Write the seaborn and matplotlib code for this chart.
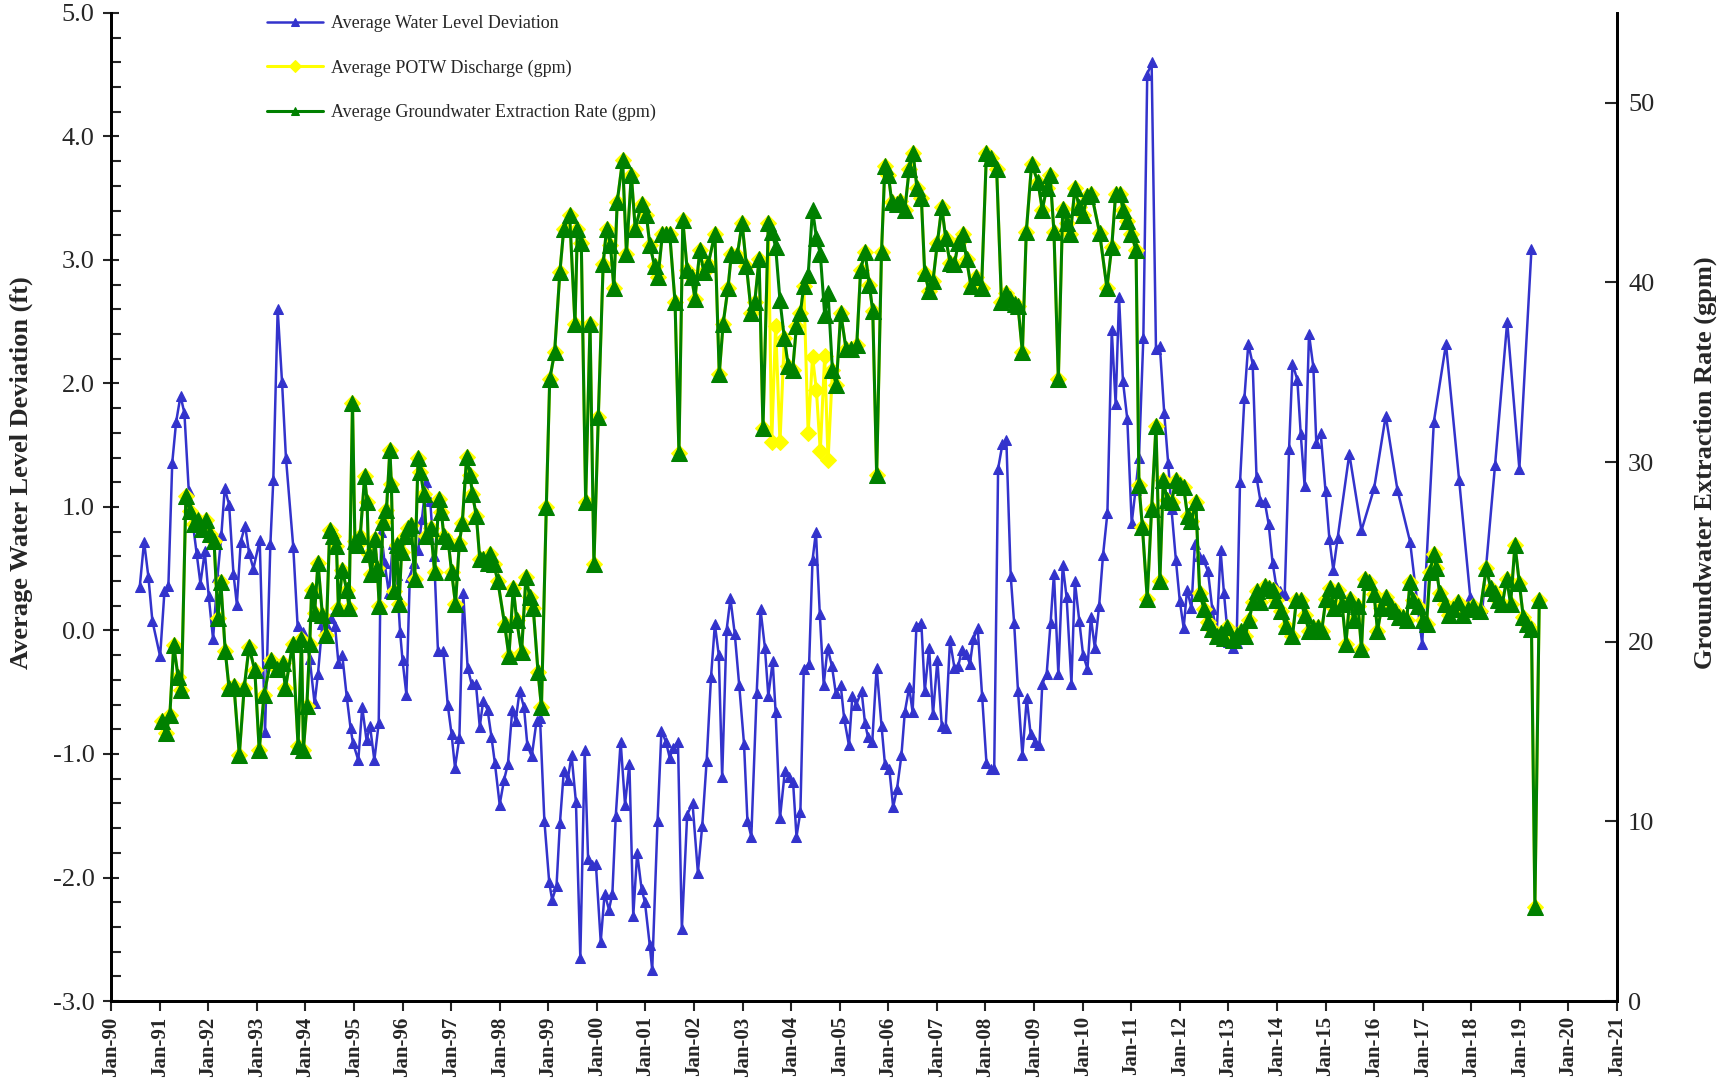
import numpy as np
import pandas as pd
import seaborn as sns
import matplotlib
matplotlib.use("Agg")
import matplotlib.pyplot as plt
from matplotlib.ticker import MultipleLocator

# ---- data (decimal years) ----
wl_dates = [
    1990.59, 1990.68, 1990.77, 1990.85, 1991.01, 1991.10, 1991.18, 1991.26, 1991.34, 1991.43,
    1991.51, 1991.60, 1991.76, 1991.84, 1991.93, 1992.01, 1992.10, 1992.19, 1992.27, 1992.34,
    1992.43, 1992.52, 1992.59, 1992.67, 1992.76, 1992.84, 1992.93, 1993.06, 1993.17, 1993.28,
    1993.34, 1993.43, 1993.52, 1993.60, 1993.75, 1993.84, 1993.96, 1994.09, 1994.19, 1994.26,
    1994.35, 1994.43, 1994.52, 1994.61, 1994.68, 1994.76, 1994.85, 1994.93, 1994.98, 1995.09,
    1995.17, 1995.26, 1995.33, 1995.42, 1995.51, 1995.56, 1995.63, 1995.72, 1995.80, 1995.88,
    1995.95, 1996.00, 1996.08, 1996.15, 1996.23, 1996.32, 1996.40, 1996.48, 1996.57, 1996.65,
    1996.73, 1996.84, 1996.93, 1997.01, 1997.08, 1997.17, 1997.25, 1997.34, 1997.42, 1997.51,
    1997.59, 1997.66, 1997.75, 1997.83, 1997.90, 1998.00, 1998.09, 1998.17, 1998.26, 1998.33,
    1998.41, 1998.50, 1998.57, 1998.66, 1998.76, 1998.83, 1998.92, 1999.02, 1999.08, 1999.17,
    1999.24, 1999.32, 1999.40, 1999.48, 1999.57, 1999.66, 1999.75, 1999.82, 1999.90, 1999.98,
    2000.08, 2000.16, 2000.25, 2000.32, 2000.39, 2000.49, 2000.58, 2000.67, 2000.75, 2000.83,
    2000.92, 2000.99, 2001.09, 2001.14, 2001.25, 2001.33, 2001.42, 2001.50, 2001.57, 2001.67,
    2001.75, 2001.86, 2001.97, 2002.08, 2002.17, 2002.26, 2002.35, 2002.43, 2002.51, 2002.58,
    2002.67, 2002.75, 2002.84, 2002.93, 2003.03, 2003.10, 2003.18, 2003.29, 2003.37, 2003.46,
    2003.53, 2003.62, 2003.68, 2003.77, 2003.87, 2003.96, 2004.04, 2004.11, 2004.19, 2004.26,
    2004.37, 2004.44, 2004.51, 2004.59, 2004.67, 2004.75, 2004.84, 2004.92, 2005.02, 2005.09,
    2005.19, 2005.26, 2005.34, 2005.45, 2005.52, 2005.58, 2005.67, 2005.76, 2005.86, 2005.93,
    2006.02, 2006.10, 2006.18, 2006.27, 2006.34, 2006.43, 2006.50, 2006.58, 2006.68, 2006.75,
    2006.84, 2006.92, 2007.01, 2007.10, 2007.18, 2007.27, 2007.36, 2007.44, 2007.51, 2007.60,
    2007.68, 2007.75, 2007.84, 2007.93, 2008.02, 2008.11, 2008.18, 2008.26, 2008.35, 2008.43,
    2008.52, 2008.59, 2008.67, 2008.76, 2008.85, 2008.93, 2009.02, 2009.11, 2009.17, 2009.26,
    2009.34, 2009.41, 2009.50, 2009.59, 2009.67, 2009.77, 2009.84, 2009.93, 2010.01, 2010.10,
    2010.17, 2010.25, 2010.34, 2010.42, 2010.51, 2010.60, 2010.68, 2010.75, 2010.83, 2010.92,
    2011.01, 2011.09, 2011.16, 2011.25, 2011.33, 2011.42, 2011.51, 2011.59, 2011.68, 2011.76,
    2011.83, 2011.92, 2012.00, 2012.08, 2012.15, 2012.24, 2012.31, 2012.40, 2012.48, 2012.58,
    2012.67, 2012.76, 2012.84, 2012.91, 2013.00, 2013.09, 2013.17, 2013.24, 2013.33, 2013.41,
    2013.50, 2013.58, 2013.66, 2013.75, 2013.83, 2013.91, 2013.99, 2014.07, 2014.16, 2014.25,
    2014.32, 2014.42, 2014.49, 2014.57, 2014.66, 2014.75, 2014.81, 2014.90, 2015.00, 2015.08,
    2015.16, 2015.25, 2015.49, 2015.74, 2016.00, 2016.24, 2016.48, 2016.74, 2016.99, 2017.23,
    2017.48, 2017.75, 2017.98, 2018.23, 2018.49, 2018.74, 2018.99, 2019.24,
]
wl_values = [
    0.35, 0.72, 0.43, 0.08, -0.21, 0.32, 0.36, 1.36, 1.69, 1.90,
    1.76, 1.13, 0.63, 0.38, 0.64, 0.28, -0.07, 0.43, 0.77, 1.15,
    1.02, 0.46, 0.21, 0.72, 0.85, 0.63, 0.50, 0.73, -0.82, 0.70,
    1.22, 2.60, 2.01, 1.40, 0.68, 0.04, -0.01, -0.23, -0.59, -0.35,
    0.05, 0.05, 0.10, 0.04, -0.26, -0.20, -0.53, -0.79, -0.91, -1.05,
    -0.62, -0.89, -0.77, -1.05, -0.75, 0.80, 0.55, 0.30, 0.70, 0.45,
    -0.01, -0.24, -0.52, 0.43, 0.55, 0.65, 0.90, 1.20, 1.05, 0.60,
    -0.17, -0.17, -0.60, -0.84, -1.11, -0.87, 0.30, -0.30, -0.43, -0.43,
    -0.78, -0.57, -0.64, -0.86, -1.07, -1.41, -1.21, -1.08, -0.64, -0.73,
    -0.49, -0.62, -0.93, -1.02, -0.73, -0.71, -1.54, -2.04, -2.18, -2.07,
    -1.56, -1.14, -1.21, -1.01, -1.39, -2.65, -0.97, -1.85, -1.90, -1.89,
    -2.52, -2.13, -2.26, -2.13, -1.50, -0.90, -1.41, -1.08, -2.31, -1.80,
    -2.09, -2.20, -2.55, -2.75, -1.54, -0.81, -0.90, -1.03, -0.95, -0.90,
    -2.42, -1.49, -1.40, -1.96, -1.58, -1.06, -0.38, 0.05, -0.20, -1.19,
    0.00, 0.26, -0.03, -0.44, -0.92, -1.54, -1.67, -0.51, 0.17, -0.14,
    -0.53, -0.25, -0.66, -1.52, -1.14, -1.19, -1.23, -1.67, -1.47, -0.31,
    -0.27, 0.57, 0.80, 0.13, -0.44, -0.14, -0.29, -0.51, -0.44, -0.71,
    -0.93, -0.53, -0.60, -0.49, -0.75, -0.86, -0.90, -0.30, -0.77, -1.08,
    -1.12, -1.43, -1.28, -1.01, -0.66, -0.46, -0.66, 0.04, 0.06, -0.49,
    -0.14, -0.68, -0.24, -0.77, -0.79, -0.08, -0.30, -0.29, -0.16, -0.19,
    -0.27, -0.07, 0.02, -0.53, -1.07, -1.12, -1.12, 1.31, 1.51, 1.54,
    0.44, 0.06, -0.49, -1.01, -0.55, -0.84, -0.90, -0.93, -0.43, -0.35,
    0.06, 0.46, -0.35, 0.53, 0.27, -0.43, 0.40, 0.08, -0.20, -0.31,
    0.11, -0.14, 0.20, 0.61, 0.95, 2.43, 1.83, 2.70, 2.02, 1.71,
    0.87, 1.14, 1.40, 2.37, 4.50, 4.60, 2.28, 2.30, 1.76, 1.36,
    0.98, 0.57, 0.24, 0.02, 0.33, 0.18, 0.70, 0.60, 0.58, 0.48,
    0.17, -0.02, 0.65, 0.30, -0.09, -0.14, -0.10, 1.20, 1.88, 2.32,
    2.16, 1.24, 1.05, 1.04, 0.86, 0.55, 0.35, 0.32, 0.29, 1.47,
    2.16, 2.03, 1.59, 1.17, 2.40, 2.13, 1.52, 1.60, 1.13, 0.74,
    0.49, 0.75, 1.43, 0.81, 1.15, 1.74, 1.14, 0.72, -0.11, 1.69,
    2.32, 1.22, 0.27, 0.18, 1.34, 2.50, 1.31, 3.09,
]

gw_dates = [
    1991.04, 1991.13, 1991.21, 1991.29, 1991.38, 1991.45, 1991.54, 1991.62, 1991.71, 1991.79,
    1991.87, 1991.96, 1992.04, 1992.12, 1992.20, 1992.26, 1992.35, 1992.43, 1992.53, 1992.64,
    1992.74, 1992.84, 1992.96, 1993.05, 1993.15, 1993.29, 1993.41, 1993.53, 1993.59, 1993.74,
    1993.85, 1993.92, 1993.96, 1994.03, 1994.09, 1994.13, 1994.19, 1994.26, 1994.35, 1994.43,
    1994.50, 1994.56, 1994.64, 1994.68, 1994.76, 1994.85, 1994.90, 1994.97, 1995.02, 1995.07,
    1995.13, 1995.22, 1995.27, 1995.30, 1995.36, 1995.43, 1995.48, 1995.52, 1995.60, 1995.67,
    1995.74, 1995.77, 1995.82, 1995.88, 1995.93, 1995.98, 1996.05, 1996.12, 1996.18, 1996.25,
    1996.32, 1996.37, 1996.44, 1996.49, 1996.58, 1996.66, 1996.75, 1996.80, 1996.85, 1996.94,
    1997.01, 1997.09, 1997.17, 1997.23, 1997.32, 1997.39, 1997.44, 1997.52, 1997.59, 1997.66,
    1997.76, 1997.80, 1997.88, 1997.96, 1998.10, 1998.19, 1998.28, 1998.35, 1998.45, 1998.54,
    1998.62, 1998.69, 1998.79, 1998.86, 1998.96, 1999.03, 1999.13, 1999.24, 1999.32, 1999.44,
    1999.55, 1999.60, 1999.68, 1999.77, 1999.86, 1999.94, 2000.03, 2000.13, 2000.20, 2000.28,
    2000.35, 2000.42, 2000.53, 2000.61, 2000.71, 2000.79, 2000.92, 2001.02, 2001.09, 2001.19,
    2001.26, 2001.35, 2001.43, 2001.50, 2001.61, 2001.69, 2001.77, 2001.86, 2001.95, 2002.02,
    2002.12, 2002.20, 2002.29, 2002.43, 2002.52, 2002.60, 2002.70, 2002.77, 2002.89, 2002.99,
    2003.08, 2003.18, 2003.25, 2003.34, 2003.42, 2003.53, 2003.60, 2003.68, 2003.77, 2003.86,
    2003.94, 2004.03, 2004.11, 2004.19, 2004.26, 2004.35, 2004.44, 2004.52, 2004.60, 2004.69,
    2004.76, 2004.85, 2004.93, 2005.02, 2005.13, 2005.24, 2005.35, 2005.43, 2005.52, 2005.61,
    2005.68, 2005.76, 2005.86, 2005.93, 2006.00, 2006.07, 2006.17, 2006.25, 2006.34, 2006.43,
    2006.51, 2006.59, 2006.68, 2006.75, 2006.84, 2006.92, 2007.01, 2007.10, 2007.18, 2007.27,
    2007.36, 2007.44, 2007.53, 2007.61, 2007.70, 2007.80, 2007.92, 2008.02, 2008.12, 2008.23,
    2008.33, 2008.42, 2008.50, 2008.60, 2008.67, 2008.76, 2008.84, 2008.95, 2009.08, 2009.17,
    2009.26, 2009.33, 2009.41, 2009.50, 2009.59, 2009.68, 2009.75, 2009.84, 2009.93, 2010.01,
    2010.09, 2010.18, 2010.35, 2010.50, 2010.60, 2010.68, 2010.77, 2010.83, 2010.92, 2011.00,
    2011.10, 2011.16, 2011.23, 2011.33, 2011.42, 2011.51, 2011.59, 2011.66, 2011.74, 2011.83,
    2011.92, 2012.00, 2012.08, 2012.16, 2012.24, 2012.33, 2012.41, 2012.50, 2012.58, 2012.67,
    2012.76, 2012.84, 2012.91, 2012.98, 2013.09, 2013.17, 2013.25, 2013.34, 2013.43, 2013.50,
    2013.58, 2013.66, 2013.75, 2013.83, 2013.92, 2013.99, 2014.09, 2014.18, 2014.32, 2014.40,
    2014.49, 2014.57, 2014.66, 2014.75, 2014.84, 2014.92, 2015.01, 2015.09, 2015.18, 2015.26,
    2015.34, 2015.42, 2015.50, 2015.58, 2015.67, 2015.74, 2015.81, 2015.90, 2016.00, 2016.07,
    2016.15, 2016.24, 2016.34, 2016.43, 2016.52, 2016.60, 2016.67, 2016.74, 2016.80, 2016.91,
    2017.00, 2017.08, 2017.15, 2017.23, 2017.28, 2017.35, 2017.46, 2017.54, 2017.63, 2017.73,
    2017.83, 2017.94, 2018.04, 2018.18, 2018.31, 2018.40, 2018.48, 2018.55, 2018.64, 2018.73,
    2018.81, 2018.90, 2018.99, 2019.07, 2019.15, 2019.24, 2019.31, 2019.40,
]
gw_values = [
    15.6, 14.9, 15.9, 19.8, 18.05, 17.3, 28.1, 27.3, 26.55, 26.8,
    26.3, 26.8, 26.0, 25.6, 21.3, 23.3, 19.5, 17.4, 17.55, 13.7,
    17.4, 19.7, 18.4, 13.95, 17.05, 19.0, 18.5, 18.8, 17.4, 19.9,
    14.2, 20.15, 14.0, 16.4, 19.9, 22.9, 21.6, 24.4, 21.5, 20.4,
    26.2, 25.9, 25.35, 21.9, 24.0, 22.9, 21.9, 33.3, 25.6, 25.4,
    25.9, 29.2, 27.8, 24.9, 23.75, 25.7, 24.1, 22.0, 26.65, 27.35,
    30.7, 28.8, 22.8, 25.4, 22.1, 25.0, 25.9, 26.35, 26.5, 23.5,
    30.2, 29.45, 28.2, 25.9, 26.35, 23.9, 27.95, 27.2, 25.9, 25.6,
    23.9, 22.1, 25.5, 26.6, 30.3, 29.3, 28.2, 27.0, 24.6, 24.6,
    24.4, 24.9, 24.3, 23.4, 21.0, 19.2, 23.0, 21.2, 19.4, 23.6,
    22.5, 21.9, 18.3, 16.35, 27.5, 34.6, 36.1, 40.6, 43.0, 43.75,
    37.7, 43.0, 42.2, 27.8, 37.7, 24.3, 32.5, 41.0, 43.0, 42.1,
    39.7, 44.5, 46.8, 41.6, 46.0, 43.0, 44.35, 43.75, 42.1, 40.9,
    40.3, 42.7, 42.7, 42.7, 38.9, 30.5, 43.45, 40.7, 40.3, 39.1,
    41.8, 40.6, 41.0, 42.7, 34.9, 37.7, 39.7, 41.6, 41.5, 43.3,
    40.9, 38.3, 38.9, 41.3, 31.9, 43.3, 42.8, 42.0, 39.0, 36.9,
    35.35, 35.1, 37.6, 38.3, 39.8, 40.4, 44.05, 42.5, 41.6, 38.2,
    39.4, 35.1, 34.3, 38.3, 36.3, 36.3, 36.5, 40.7, 41.7, 39.85,
    38.4, 29.3, 41.7, 46.5, 46.0, 44.5, 44.35, 44.56, 44.05, 46.3,
    47.2, 45.25, 44.7, 40.5, 39.5, 40.1, 42.2, 44.2, 42.5, 41.1,
    41.0, 42.2, 42.7, 41.3, 39.8, 40.3, 39.7, 47.2, 46.9, 46.3,
    38.9, 39.4, 39.1, 38.8, 38.7, 36.1, 42.8, 46.6, 45.6, 44.05,
    45.25, 46.0, 42.8, 34.6, 44.1, 43.3, 42.7, 45.25, 44.2, 43.75,
    44.8, 44.95, 42.75, 39.7, 42.0, 44.95, 44.95, 44.05, 43.4, 42.7,
    41.8, 28.7, 26.4, 22.4, 27.4, 32.0, 23.4, 29.0, 27.9, 27.8,
    29.0, 28.7, 28.6, 27.0, 26.7, 27.8, 22.7, 21.8, 21.1, 20.7,
    20.3, 20.5, 20.2, 20.8, 20.1, 20.4, 20.6, 20.3, 21.2, 22.2,
    22.8, 22.2, 23.1, 23.0, 22.9, 22.3, 21.7, 20.9, 20.3, 22.3,
    22.3, 21.5, 20.6, 20.8, 20.8, 20.6, 22.4, 23.0, 21.85, 22.9,
    22.1, 19.9, 22.4, 21.2, 22.0, 19.6, 23.5, 23.3, 22.65, 20.6,
    21.85, 22.5, 22.0, 21.7, 21.4, 21.4, 21.2, 23.3, 22.3, 22.0,
    21.2, 21.0, 23.9, 24.9, 24.1, 22.7, 22.1, 21.5, 21.8, 22.2,
    21.5, 21.8, 22.0, 21.7, 24.1, 23.0, 22.7, 22.3, 22.1, 23.5,
    22.1, 25.4, 23.25, 21.4, 21.0, 20.7, 5.25, 22.3,
]

# POTW discharge follows the extraction rate except in 2003-2004
potw_diff_dates = [2003.60, 2003.68, 2003.77, 2004.35, 2004.44, 2004.52, 2004.60, 2004.69, 2004.76]
potw_diff_values = [31.1, 37.6, 31.1, 31.6, 35.85, 34.0, 30.6, 35.9, 30.1]

year_ticks = list(range(1990, 2022))
tick_labels = ["Jan-%02d" % (y % 100) for y in year_ticks]

# ---- build frames ----
wl = pd.DataFrame({"date": wl_dates, "value": wl_values})
gw = pd.DataFrame({"date": gw_dates, "value": gw_values})
potw = gw.copy()
for d, v in zip(potw_diff_dates, potw_diff_values):
    potw.loc[np.isclose(potw["date"], d), "value"] = v

sns.set_theme(style="white")
plt.rcParams["font.family"] = ["Liberation Serif", "DejaVu Serif"]

fig = plt.figure(figsize=(17.27, 10.81), dpi=100)
ax = fig.add_axes([0.0643, 0.074, 0.872, 0.914])
ax2 = ax.twinx()

sns.lineplot(data=wl, x="date", y="value", ax=ax, color="#3333CC", marker="^",
             markersize=6.5, markeredgecolor="#3333CC", linewidth=1.8,
             estimator=None, sort=False, label="Average Water Level Deviation", legend=False)
sns.lineplot(data=potw, x="date", y="value", ax=ax2, color="#FFFF00", marker="D",
             markersize=8, markeredgecolor="#FFFF00", linewidth=2.2,
             estimator=None, sort=False, label="Average POTW Discharge (gpm)", legend=False)
sns.lineplot(data=gw, x="date", y="value", ax=ax2, color="#008000", marker="^",
             markersize=11.5, markeredgecolor="#008000", linewidth=2.2,
             estimator=None, sort=False, label="Average Groundwater Extraction Rate (gpm)", legend=False)

ax.set_xlim(1990, 2021)
ax.set_ylim(-3.0, 5.0)
ax2.set_ylim(0, 55)

ax.set_xticks(year_ticks)
ax.set_xticklabels(tick_labels, rotation=90, fontsize=15, fontweight="bold")
ax.set_yticks(np.arange(-3, 5.01, 1.0))
ax.set_yticklabels(["%.1f" % v for v in np.arange(-3, 5.01, 1.0)], fontsize=19)
ax.yaxis.set_minor_locator(MultipleLocator(0.2))
ax2.set_yticks(range(0, 51, 10))
ax2.set_yticklabels([str(v) for v in range(0, 51, 10)], fontsize=19)

ax.tick_params(axis="y", which="major", direction="inout", length=12, width=1.5, pad=6)
ax.tick_params(axis="y", which="minor", direction="in", length=7, width=1.5, left=True)
ax.tick_params(axis="x", which="major", direction="out", length=7, width=1.5, pad=4, bottom=True)
ax2.tick_params(axis="y", which="major", direction="in", length=9, width=1.5, pad=8, right=True)

ax.set_xlabel("")
ax.set_ylabel("Average Water Level Deviation (ft)", fontsize=19, fontweight="bold", labelpad=14)
ax2.set_ylabel("Groundwater Extraction Rate (gpm)", fontsize=19, fontweight="bold", labelpad=28)
ax.yaxis.label.set_y(0.535)
ax2.yaxis.label.set_y(0.545)

for a in (ax, ax2):
    a.spines["top"].set_visible(False)
    for s in ("left", "right", "bottom"):
        a.spines[s].set_color("black")
        a.spines[s].set_linewidth(2)

h1, l1 = ax.get_legend_handles_labels()
h2, l2 = ax2.get_legend_handles_labels()
leg = ax2.legend(h1 + h2, l1 + l2, loc="upper left", bbox_to_anchor=(0.099, 1.005),
                 frameon=False, fontsize=13, labelspacing=1.5, handlelength=3.1,
                 handletextpad=0.4, borderaxespad=0)
for line in leg.get_lines():
    line.set_markersize(6)

fig.savefig("out.png", dpi=100)
